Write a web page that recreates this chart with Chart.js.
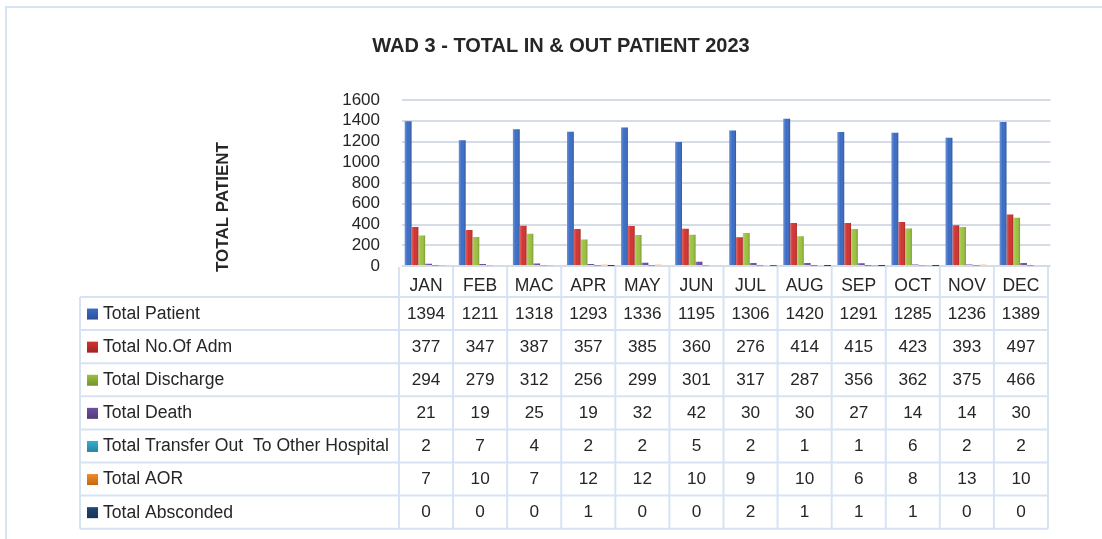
<!DOCTYPE html>
<html>
<head>
<meta charset="utf-8">
<title>WAD 3 - TOTAL IN & OUT PATIENT 2023</title>
<script src="https://cdn.jsdelivr.net/npm/chart.js@4.4.1/dist/chart.umd.min.js"></script>
<style>
    html, body { margin: 0; padding: 0; background: #fff; }
    canvas { display: block; }
</style>
</head>
<body>
<canvas id="wad3" width="1102" height="539"></canvas>
<script>
const months = ['JAN', 'FEB', 'MAC', 'APR', 'MAY', 'JUN', 'JUL', 'AUG', 'SEP', 'OCT', 'NOV', 'DEC'];
const seriesNames = ['Total Patient', 'Total No.Of Adm', 'Total Discharge', 'Total Death',
    'Total Transfer Out  To Other Hospital', 'Total AOR', 'Total Absconded'];
const totalPatient = [1394, 1211, 1318, 1293, 1336, 1195, 1306, 1420, 1291, 1285, 1236, 1389];
const totalAdm = [377, 347, 387, 357, 385, 360, 276, 414, 415, 423, 393, 497];
const totalDischarge = [294, 279, 312, 256, 299, 301, 317, 287, 356, 362, 375, 466];
const totalDeath = [21, 19, 25, 19, 32, 42, 30, 30, 27, 14, 14, 30];
const totalTransfer = [2, 7, 4, 2, 2, 5, 2, 1, 1, 6, 2, 2];
const totalAOR = [7, 10, 7, 12, 12, 10, 9, 10, 6, 8, 13, 10];
const totalAbsconded = [0, 0, 0, 1, 0, 0, 2, 1, 1, 1, 0, 0];
const yTicks = [0, 200, 400, 600, 800, 1000, 1200, 1400, 1600];

const seriesValues = [totalPatient, totalAdm, totalDischarge, totalDeath, totalTransfer, totalAOR, totalAbsconded];
const seriesColors = ['#3a6cc6', '#d2322f', '#9bc23e', '#6e4fa3', '#35aed0', '#f08a2a', '#1f4778'];

const FONT = "'Liberation Sans', Arial, sans-serif";
const TEXT = '#262626';
const LINE = '#d7e3f3';

// table geometry (pixels)
const tableLeft = 80;
const rowTop = 297;
const rowH = 33.1;
const headerTop = 267;
const shift = -2.5;

// light cylinder shading on each bar
const barShade = {
    id: 'barShade',
    afterDatasetsDraw(chart) {
        const ctx = chart.ctx;
        chart.data.datasets.forEach(function (ds, i) {
            chart.getDatasetMeta(i).data.forEach(function (bar) {
                const w = bar.width;
                const left = bar.x - w / 2;
                const h = bar.base - bar.y;
                if (h < 1) return;
                const g = ctx.createLinearGradient(left, 0, left + w, 0);
                g.addColorStop(0, 'rgba(255,255,255,0.25)');
                g.addColorStop(0.45, 'rgba(255,255,255,0)');
                g.addColorStop(1, 'rgba(0,0,0,0.22)');
                ctx.save();
                ctx.fillStyle = g;
                ctx.fillRect(left, bar.y, w, h);
                ctx.restore();
            });
        });
    }
};

// frame, titles and the data table under the plot
const dataTable = {
    id: 'dataTable',
    afterDraw(chart) {
        const ctx = chart.ctx;
        const x = chart.scales.x;
        const area = chart.chartArea;
        const colW = area.width / months.length;
        const firstCol = area.left + shift;
        const tableRight = firstCol + colW * months.length;
        const tableBottom = rowTop + rowH * seriesNames.length;

        ctx.save();

        // outer frame
        ctx.strokeStyle = LINE;
        ctx.lineWidth = 2;
        ctx.beginPath();
        ctx.moveTo(6, 539);
        ctx.lineTo(6, 7);
        ctx.lineTo(1102, 7);
        ctx.stroke();

        // title
        ctx.fillStyle = TEXT;
        ctx.font = "bold 20px " + FONT;
        ctx.textAlign = 'center';
        ctx.textBaseline = 'middle';
        ctx.fillText('WAD 3 - TOTAL IN & OUT PATIENT 2023', 561, 46);

        // y axis title
        ctx.save();
        ctx.translate(223, 207);
        ctx.rotate(-Math.PI / 2);
        ctx.font = "bold 17px " + FONT;
        ctx.fillText('TOTAL PATIENT', 0, 0);
        ctx.restore();

        // table lines
        ctx.strokeStyle = LINE;
        ctx.lineWidth = 2;
        ctx.beginPath();
        for (let r = 0; r <= seriesNames.length; r++) {
            const y = rowTop + r * rowH;
            ctx.moveTo(tableLeft, y);
            ctx.lineTo(tableRight, y);
        }
        ctx.moveTo(tableLeft, rowTop);
        ctx.lineTo(tableLeft, tableBottom);
        for (let c = 0; c <= months.length; c++) {
            const cx = firstCol + c * colW;
            ctx.moveTo(cx, headerTop);
            ctx.lineTo(cx, tableBottom);
        }
        ctx.stroke();

        // month header
        ctx.fillStyle = TEXT;
        ctx.textAlign = 'center';
        ctx.textBaseline = 'middle';
        ctx.font = "17.5px " + FONT;
        months.forEach(function (m, i) {
            ctx.fillText(m, x.getPixelForValue(i) + shift, 286);
        });

        // rows
        seriesNames.forEach(function (name, r) {
            const cy = rowTop + r * rowH + rowH / 2 + 0.5;
            const key = ctx.createLinearGradient(0, cy - 5.5, 0, cy + 5.5);
            key.addColorStop(0, seriesColors[r]);
            key.addColorStop(1, Chart.helpers.color(seriesColors[r]).darken(0.25).rgbString());
            ctx.fillStyle = key;
            ctx.fillRect(87, cy - 5.5, 11, 11);

            ctx.fillStyle = TEXT;
            ctx.textAlign = 'left';
            ctx.font = "17.6px " + FONT;
            ctx.fillText(name, 103, cy);

            ctx.textAlign = 'center';
            ctx.font = "17.2px " + FONT;
            seriesValues[r].forEach(function (v, i) {
                ctx.fillText(String(v), x.getPixelForValue(i) + shift, cy);
            });
        });

        ctx.restore();
    }
};

let Wad3Chart = new Chart(document.getElementById('wad3'), {
    type: 'bar',
    data: {
        labels: months,
        datasets: seriesNames.map(function (name, i) {
            return {
                label: name,
                data: seriesValues[i],
                backgroundColor: seriesColors[i],
                borderWidth: 0,
                categoryPercentage: 0.88,
                barPercentage: 1.0
            };
        })
    },
    options: {
        responsive: false,
        devicePixelRatio: 1,
        animation: false,
        layout: {
            padding: {
                left: 0,
                right: 51.5,
                top: 100,
                bottom: 273
            }
        },
        plugins: {
            legend: {
                display: false
            },
            title: {
                display: false
            },
            tooltip: {
                enabled: false
            }
        },
        scales: {
            x: {
                display: false
            },
            y: {
                min: 0,
                max: 1600,
                afterFit: function (scale) {
                    scale.width = 401.5;
                },
                afterBuildTicks: function (scale) {
                    scale.ticks = yTicks.map(function (v) { return { value: v }; });
                },
                grid: {
                    color: '#d6dce6',
                    lineWidth: 2,
                    drawTicks: false
                },
                border: {
                    display: false
                },
                ticks: {
                    autoSkip: false,
                    padding: 21.5,
                    color: TEXT,
                    font: {
                        family: FONT,
                        size: 17
                    },
                    callback: function (value) {
                        return String(value);
                    }
                }
            }
        }
    },
    plugins: [barShade, dataTable]
});
</script>
</body>
</html>
